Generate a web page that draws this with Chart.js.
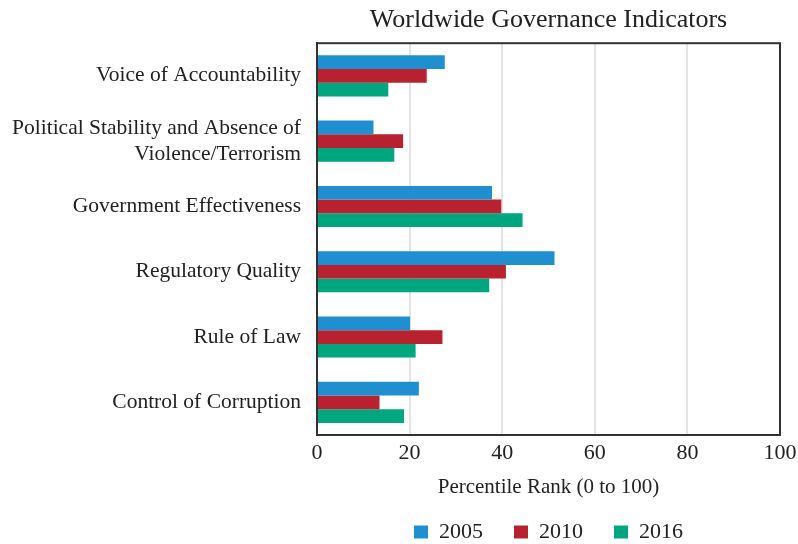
<!DOCTYPE html>
<html>
<head>
<meta charset="utf-8">
<script src="https://cdn.jsdelivr.net/npm/chart.js@4.4.0/dist/chart.umd.min.js"></script>
<style>
  html, body { margin: 0; padding: 0; background: #fff; }
  #wrap { width: 798px; height: 544px; }
</style>
</head>
<body>
<div id="wrap"><canvas id="chart"></canvas></div>
<script>
// Worldwide Governance Indicators - percentile rank por ano
const categories = [
    'Voice of Accountability',
    ['Political Stability and Absence of', 'Violence/Terrorism'],
    'Government Effectiveness',
    'Regulatory Quality',
    'Rule of Law',
    'Control of Corruption'
];
const values2005 = [27.6, 12.2, 37.8, 51.3, 20.1, 22.0];
const values2010 = [23.7, 18.6, 39.8, 40.8, 27.1, 13.5];
const values2016 = [15.4, 16.7, 44.4, 37.2, 21.3, 18.8];
const xTicks = [0, 20, 40, 60, 80, 100];

const serif = "'Liberation Serif', 'DejaVu Serif', serif";

// moldura em volta da área do gráfico
const frame = {
    id: 'frame',
    afterDraw(chart) {
        const a = chart.chartArea;
        const ctx = chart.ctx;
        ctx.save();
        ctx.strokeStyle = '#333';
        ctx.lineWidth = 2;
        ctx.strokeRect(a.left, a.top, a.right - a.left, a.bottom - a.top);
        ctx.restore();
    }
};

const ctx = document.getElementById('chart').getContext('2d');
new Chart(ctx, {
    type: 'bar',
    data: {
        labels: categories,
        datasets: [
            { label: '2005', data: values2005, backgroundColor: '#1f8fd0' },
            { label: '2010', data: values2010, backgroundColor: '#b8212f' },
            { label: '2016', data: values2016, backgroundColor: '#00a77e' }
        ]
    },
    options: {
        indexAxis: 'y',
        responsive: true,
        maintainAspectRatio: false,
        animation: false,
        layout: { padding: { top: 0, right: 0, bottom: -9, left: 0 } },
        datasets: { bar: { categoryPercentage: 0.63, barPercentage: 1.0 } },
        scales: {
            x: {
                min: 0,
                max: 100,
                afterBuildTicks: (scale) => { scale.ticks = xTicks.map(v => ({ value: v })); },
                afterFit: (scale) => { scale.height = 55; scale.paddingRight = 18; },
                grid: { color: '#e4e4e4', lineWidth: 2, drawTicks: false },
                border: { color: '#333', width: 2 },
                ticks: { color: '#222', font: { family: serif, size: 22 }, padding: 5 },
                title: {
                    display: true,
                    text: 'Percentile Rank (0 to 100)',
                    color: '#222',
                    font: { family: serif, size: 21 },
                    padding: { top: 0, bottom: -10 }
                }
            },
            y: {
                afterFit: (scale) => { scale.width = 317; },
                grid: { display: false, drawTicks: false },
                border: { color: '#333', width: 2 },
                ticks: { color: '#222', font: { family: serif, size: 21.5 }, padding: 16 }
            }
        },
        plugins: {
            title: {
                display: true,
                fullSize: false,
                text: 'Worldwide Governance Indicators',
                color: '#222',
                font: { family: serif, size: 26, weight: 'normal' },
                padding: { top: 5, bottom: 7 }
            },
            legend: {
                position: 'bottom',
                fullSize: false,
                labels: {
                    color: '#222',
                    font: { family: serif, size: 22 },
                    boxWidth: 14,
                    boxHeight: 13,
                    padding: 31
                }
            },
            tooltip: { enabled: false }
        }
    },
    plugins: [frame]
});
</script>
</body>
</html>
